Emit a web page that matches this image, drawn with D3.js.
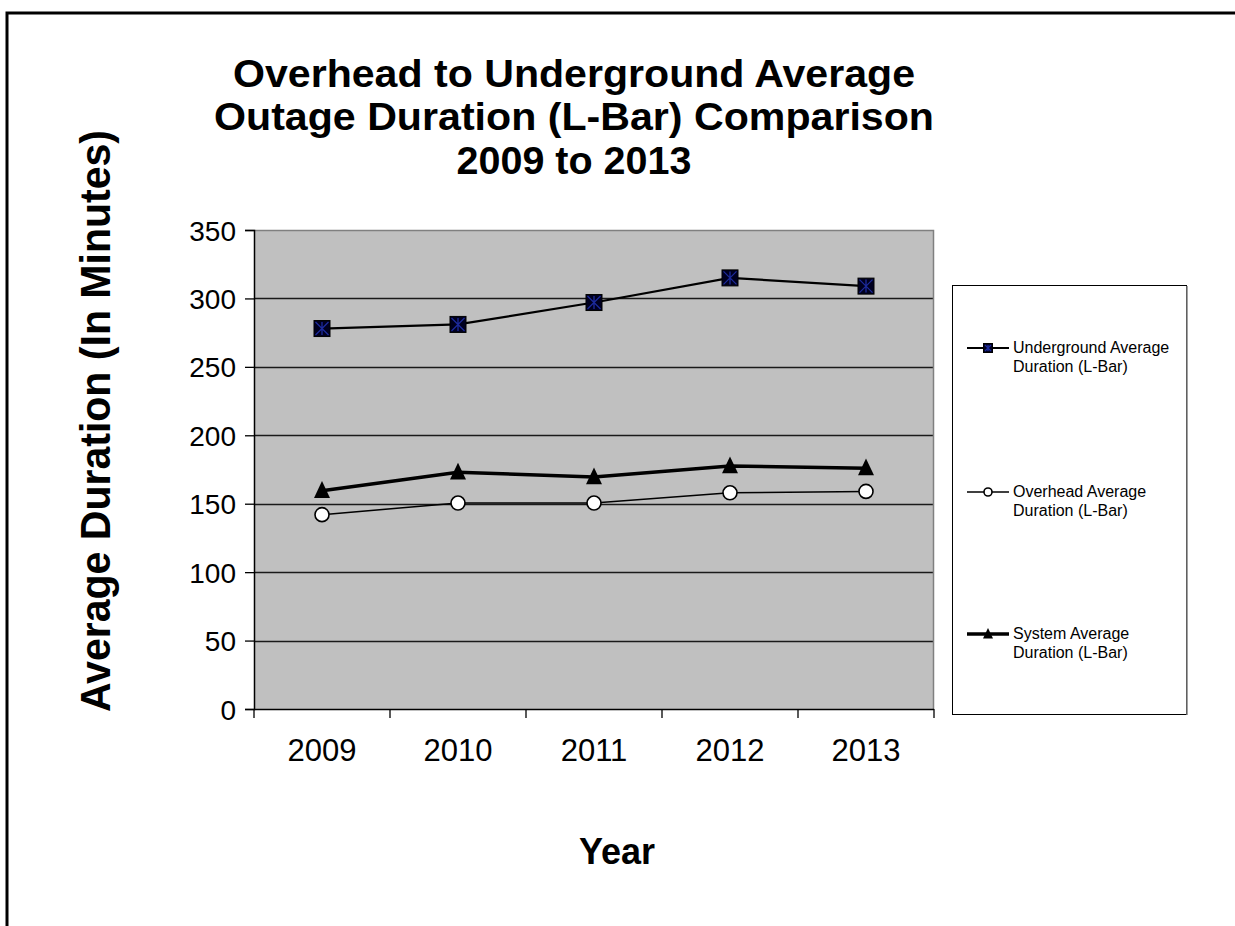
<!DOCTYPE html>
<html>
<head>
<meta charset="utf-8">
<script src="https://cdn.jsdelivr.net/npm/d3@7/dist/d3.min.js"></script>
<style>
  html, body { margin: 0; padding: 0; background: #fff; }
  svg { display: block; }
  text { font-family: Arial, "Liberation Sans", sans-serif; fill: #000; }
</style>
</head>
<body>
<svg id="chart" width="1235" height="926"></svg>
<script>
// Chart data: average outage duration in minutes
const years = ["2009", "2010", "2011", "2012", "2013"];
const undergroundValues = [278, 281, 297, 315, 309];
const overheadValues = [142, 150.5, 150.5, 158, 159];
const systemValues = [159.5, 173, 169.5, 177.5, 176];
const yTicks = [0, 50, 100, 150, 200, 250, 300, 350];
const seriesNames = [
  ["Underground Average", "Duration (L-Bar)"],
  ["Overhead Average", "Duration (L-Bar)"],
  ["System Average", "Duration (L-Bar)"]
];
const titleLines = [
  "Overhead to Underground Average",
  "Outage Duration (L-Bar) Comparison",
  "2009 to 2013"
];

const svg = d3.select("#chart");

// Outer frame (top and left edges)
svg.append("path")
  .attr("d", "M7,926 V13 H1235")
  .attr("fill", "none").attr("stroke", "#000").attr("stroke-width", 3);

// Plot area
const plot = { left: 254, right: 934, top: 230, bottom: 709 };

const x = d3.scaleBand().domain(years).range([plot.left, plot.right]).padding(0);
const y = d3.scaleLinear().domain([0, 350]).range([plot.bottom, plot.top]);

svg.append("rect")
  .attr("x", plot.left).attr("y", plot.top)
  .attr("width", plot.right - plot.left).attr("height", plot.bottom - plot.top)
  .attr("fill", "#c0c0c0");

// Horizontal gridlines
svg.append("g")
  .selectAll("line")
  .data(yTicks.filter(d => d > 0 && d < 350))
  .join("line")
  .attr("x1", plot.left).attr("x2", plot.right)
  .attr("y1", d => Math.round(y(d)) + 0.5).attr("y2", d => Math.round(y(d)) + 0.5)
  .attr("stroke", "#1a1a1a").attr("stroke-width", 1.3);

// Gray border on top and right of plot area
svg.append("path")
  .attr("d", `M${plot.left},${plot.top + 0.5} H${plot.right - 0.5} V${plot.bottom}`)
  .attr("fill", "none").attr("stroke", "#808080").attr("stroke-width", 1.5);

// Y axis
const yAxis = d3.axisLeft(y).tickValues(yTicks).tickSize(9).tickPadding(9);
const gy = svg.append("g").attr("transform", `translate(${plot.left},0)`).call(yAxis);
gy.select(".domain").attr("stroke", "#000").attr("stroke-width", 1.5);
gy.selectAll(".tick line").attr("stroke", "#000").attr("stroke-width", 1.3);
gy.selectAll(".tick text")
  .style("font-family", "Arial, 'Liberation Sans', sans-serif")
  .style("font-size", "28px").attr("fill", "#000").attr("dy", "0.36em");

// X axis: ticks at category boundaries, labels centered in each band
const gx = svg.append("g").attr("transform", `translate(0,${plot.bottom})`);
gx.append("line")
  .attr("x1", plot.left).attr("x2", plot.right)
  .attr("y1", 0.5).attr("y2", 0.5)
  .attr("stroke", "#000").attr("stroke-width", 1.5);
const boundaries = years.map(d => x(d)).concat([x(years[years.length - 1]) + x.bandwidth()]);
gx.selectAll("line.tk")
  .data(boundaries)
  .join("line").attr("class", "tk")
  .attr("x1", d => d).attr("x2", d => d)
  .attr("y1", 0).attr("y2", 9)
  .attr("stroke", "#000").attr("stroke-width", 1.3);
gx.selectAll("text")
  .data(years)
  .join("text")
  .attr("x", d => x(d) + x.bandwidth() / 2)
  .attr("y", 52)
  .attr("text-anchor", "middle")
  .style("font-size", "31px")
  .text(d => d);

// Series lines
const cx = d => x(d) + x.bandwidth() / 2;
const line = d3.line().x(d => cx(d.year)).y(d => y(d.value));
const toPoints = vals => years.map((yr, i) => ({ year: yr, value: vals[i] }));

const underPts = toPoints(undergroundValues);
const overPts = toPoints(overheadValues);
const sysPts = toPoints(systemValues);

svg.append("path").datum(underPts).attr("d", line)
  .attr("fill", "none").attr("stroke", "#000").attr("stroke-width", 2.2);
svg.append("path").datum(sysPts).attr("d", line)
  .attr("fill", "none").attr("stroke", "#000").attr("stroke-width", 3.5);
svg.append("path").datum(overPts).attr("d", line)
  .attr("fill", "none").attr("stroke", "#000").attr("stroke-width", 1.5);

// Marker drawing helpers
function squareMarker(g, s) {
  g.append("rect").attr("x", -s / 2).attr("y", -s / 2).attr("width", s).attr("height", s)
    .attr("fill", "#000020").attr("stroke", "#000").attr("stroke-width", 1);
  const r = s / 2 - 1.5;
  g.append("path")
    .attr("d", `M${-r},${-r}L${r},${r}M${-r},${r}L${r},${-r}M0,${-r}V${r}`)
    .attr("stroke", "#1c2a9c").attr("stroke-width", 1.3);
}
function circleMarker(g, r) {
  g.append("circle").attr("r", r).attr("fill", "#fff").attr("stroke", "#000").attr("stroke-width", 1.6);
}
function triangleMarker(g, s) {
  g.append("path")
    .attr("d", `M0,${-s * 0.6}L${s / 2},${s * 0.45}L${-s / 2},${s * 0.45}Z`)
    .attr("fill", "#000");
}

svg.append("g").selectAll("g").data(underPts).join("g")
  .attr("transform", d => `translate(${cx(d.year)},${y(d.value)})`)
  .each(function () { squareMarker(d3.select(this), 16); });
svg.append("g").selectAll("g").data(overPts).join("g")
  .attr("transform", d => `translate(${cx(d.year)},${y(d.value)})`)
  .each(function () { circleMarker(d3.select(this), 7); });
svg.append("g").selectAll("g").data(sysPts).join("g")
  .attr("transform", d => `translate(${cx(d.year)},${y(d.value)})`)
  .each(function () { triangleMarker(d3.select(this), 16); });

// Title
const title = svg.append("g").attr("transform", "translate(574,0)");
const titleBaselines = [87, 130, 174];
const titleWidths = [682, 720, 235];
titleLines.forEach((t, i) => {
  title.append("text")
    .attr("x", 0).attr("y", titleBaselines[i])
    .attr("text-anchor", "middle")
    .attr("textLength", titleWidths[i])
    .attr("lengthAdjust", "spacingAndGlyphs")
    .style("font-size", "39px").style("font-weight", "bold")
    .text(t);
});

// Axis titles
svg.append("text")
  .attr("transform", "translate(110,421) rotate(-90)")
  .attr("text-anchor", "middle")
  .attr("textLength", 582)
  .attr("lengthAdjust", "spacingAndGlyphs")
  .style("font-size", "43px").style("font-weight", "bold")
  .text("Average Duration (In Minutes)");

svg.append("text")
  .attr("x", 617).attr("y", 864)
  .attr("text-anchor", "middle")
  .style("font-size", "36px").style("font-weight", "bold")
  .text("Year");

// Legend
const legend = svg.append("g");
legend.append("rect")
  .attr("x", 952.5).attr("y", 285.5).attr("width", 234).attr("height", 429)
  .attr("fill", "#fff").attr("stroke", "#000").attr("stroke-width", 1);
legend.append("line")
  .attr("x1", 1187).attr("x2", 1187).attr("y1", 286).attr("y2", 715)
  .attr("stroke", "#808080").attr("stroke-width", 1.5);

const legendRows = [348, 492, 634];
const markers = [
  g => squareMarker(g, 9),
  g => circleMarker(g, 4),
  g => triangleMarker(g, 10)
];
const legendWidths = [2, 1.5, 3.5];
seriesNames.forEach((lines, i) => {
  const row = legend.append("g").attr("transform", `translate(0,${legendRows[i]})`);
  row.append("line").attr("x1", 967).attr("x2", 1009).attr("y1", 0).attr("y2", 0)
    .attr("stroke", "#000").attr("stroke-width", legendWidths[i]);
  markers[i](row.append("g").attr("transform", "translate(988,0)"));
  lines.forEach((t, j) => {
    row.append("text")
      .attr("x", 1013).attr("y", j * 19 + 5)
      .attr("fill", "#222")
      .style("font-size", "16px")
      .text(t);
  });
});
</script>
</body>
</html>
